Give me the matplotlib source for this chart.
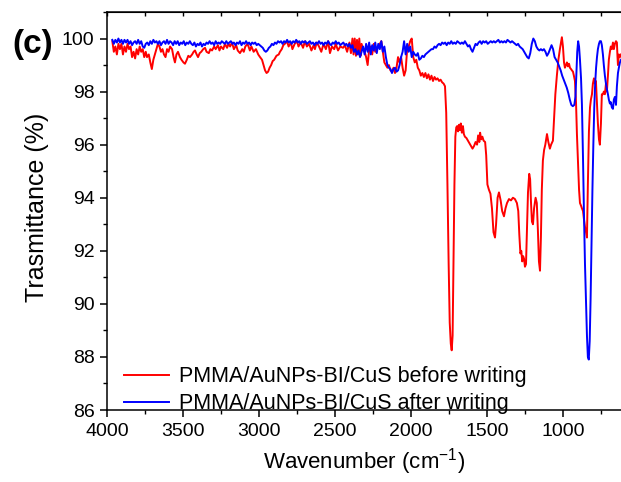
#!/usr/bin/env python3
"""
FTIR transmittance of PMMA/AuNPs-BI/CuS film before and after writing
"""

import matplotlib
matplotlib.use('Agg')
import matplotlib.pyplot as plt
from matplotlib.ticker import MultipleLocator
import numpy as np

# (wavenumber cm-1, transmittance %)
before_writing = [
    (3965, 99.9), (3955, 99.5), (3945, 99.7), (3935, 99.4), (3925, 99.8), (3915, 99.6),
    (3905, 99.8), (3895, 99.4), (3885, 99.7), (3875, 99.5), (3865, 99.8), (3855, 99.6),
    (3845, 99.7), (3835, 99.3), (3825, 99.5), (3815, 99.25), (3805, 99.6), (3795, 99.4),
    (3785, 99.7), (3775, 99.5), (3765, 99.6), (3755, 99.3), (3745, 99.5), (3737, 99.3),
    (3725, 99.4), (3715, 99.1), (3705, 98.85), (3695, 99.2), (3685, 99.4), (3675, 99.6),
    (3665, 99.8), (3655, 99.7), (3645, 99.5), (3635, 99.6), (3625, 99.4), (3615, 99.3),
    (3605, 99.6), (3595, 99.5), (3585, 99.7), (3572, 99.6), (3562, 99.3), (3553, 99.1),
    (3543, 99.4), (3533, 99.5), (3520, 99.3), (3510, 99.2), (3497, 99.1), (3487, 99.05),
    (3475, 99.2), (3465, 99.35), (3454, 99.3), (3440, 99.4), (3430, 99.5), (3421, 99.55),
    (3410, 99.4), (3401, 99.3), (3390, 99.45), (3380, 99.5), (3367, 99.6), (3355, 99.65),
    (3345, 99.5), (3330, 99.45), (3320, 99.6), (3309, 99.55), (3295, 99.7), (3285, 99.6),
    (3270, 99.75), (3260, 99.55), (3250, 99.7), (3235, 99.6), (3224, 99.8), (3210, 99.65),
    (3200, 99.8), (3190, 99.7), (3178, 99.85), (3165, 99.6), (3150, 99.75), (3140, 99.55),
    (3125, 99.45), (3110, 99.6), (3100, 99.5), (3090, 99.7), (3075, 99.8), (3060, 99.55),
    (3050, 99.7), (3035, 99.5), (3020, 99.6), (3005, 99.4), (2993, 99.3), (2980, 99.2),
    (2970, 99.0), (2960, 98.8), (2950, 98.7), (2940, 98.75), (2930, 98.9), (2920, 99.0),
    (2910, 99.15), (2900, 99.2), (2885, 99.35), (2870, 99.4), (2862, 99.5), (2850, 99.6),
    (2840, 99.75), (2830, 99.8), (2816, 99.9), (2805, 99.7), (2790, 99.85), (2780, 99.6),
    (2765, 99.8), (2750, 99.9), (2740, 99.7), (2725, 99.85), (2710, 99.65), (2697, 99.9),
    (2685, 99.7), (2670, 99.8), (2655, 99.55), (2640, 99.75), (2632, 99.6), (2620, 99.85),
    (2605, 99.7), (2590, 99.5), (2575, 99.8), (2560, 99.6), (2545, 99.9), (2533, 99.45),
    (2520, 99.7), (2505, 99.6), (2495, 99.8), (2480, 99.55), (2465, 99.7), (2447, 99.65),
    (2435, 99.75), (2420, 99.5), (2405, 99.85), (2395, 99.45), (2385, 100.0), (2378, 99.4),
    (2370, 100.0), (2362, 99.35), (2355, 99.95), (2348, 99.4), (2340, 100.0), (2332, 99.35),
    (2325, 99.8), (2315, 99.6), (2305, 99.5), (2295, 99.3), (2285, 99.0), (2275, 99.6),
    (2265, 99.7), (2255, 99.4), (2245, 99.8), (2235, 99.5), (2225, 99.6), (2215, 99.7),
    (2205, 99.8), (2195, 99.9), (2185, 99.5), (2175, 99.1), (2165, 99.0), (2155, 98.9),
    (2145, 99.0), (2135, 98.8), (2125, 98.75), (2115, 98.9), (2105, 98.7), (2095, 98.9),
    (2085, 99.3), (2075, 99.1), (2065, 99.3), (2055, 98.9), (2045, 98.6), (2035, 98.8),
    (2025, 99.6), (2015, 99.7), (2005, 99.9), (1995, 100.0), (1985, 99.3), (1975, 99.1),
    (1965, 99.2), (1955, 98.9), (1945, 98.8), (1935, 98.6), (1925, 98.7), (1915, 98.55),
    (1905, 98.7), (1895, 98.5), (1885, 98.65), (1875, 98.45), (1865, 98.6), (1855, 98.4),
    (1845, 98.55), (1835, 98.45), (1825, 98.5), (1815, 98.4), (1805, 98.45), (1795, 98.35),
    (1785, 98.3), (1776, 98.2), (1768, 97.2), (1760, 94.5), (1752, 91.5), (1745, 89.3),
    (1738, 88.5), (1732, 88.25), (1726, 88.8), (1720, 91.5), (1714, 94.5), (1708, 96.3),
    (1702, 96.65), (1696, 96.7), (1690, 96.5), (1684, 96.75), (1678, 96.55), (1672, 96.8),
    (1665, 96.45), (1658, 96.7), (1652, 96.4), (1645, 96.3), (1635, 96.25), (1625, 96.15),
    (1615, 96.05), (1605, 95.95), (1595, 95.85), (1585, 95.95), (1575, 96.1), (1565, 96.0),
    (1558, 96.35), (1550, 96.1), (1545, 96.45), (1538, 96.2), (1530, 96.3), (1522, 96.15),
    (1512, 96.1), (1505, 95.6), (1497, 94.5), (1487, 94.3), (1477, 94.15), (1467, 93.6),
    (1457, 92.7), (1447, 92.5), (1440, 93.0), (1430, 94.0), (1421, 94.2), (1410, 93.9),
    (1400, 93.5), (1388, 93.3), (1378, 93.6), (1368, 93.8), (1355, 93.95), (1342, 93.9),
    (1329, 94.0), (1316, 93.95), (1303, 93.8), (1294, 93.5), (1287, 92.6), (1280, 91.9),
    (1274, 92.0), (1268, 91.6), (1262, 91.8), (1256, 91.7), (1250, 91.4), (1243, 91.5),
    (1237, 92.8), (1230, 94.2), (1222, 94.9), (1216, 94.7), (1210, 93.8), (1204, 93.1),
    (1197, 93.0), (1190, 93.6), (1180, 94.0), (1172, 93.8), (1165, 92.8), (1158, 91.6),
    (1151, 91.25), (1145, 92.5), (1139, 94.3), (1132, 95.4), (1124, 95.8), (1116, 96.0),
    (1105, 96.4), (1096, 96.1), (1086, 95.85), (1078, 96.0), (1066, 96.15), (1058, 97.0),
    (1050, 97.9), (1040, 98.6), (1030, 99.2), (1020, 99.6), (1013, 99.85), (1007, 100.05),
    (1000, 99.7), (993, 99.1), (987, 98.9), (980, 99.0), (974, 99.1), (967, 98.95),
    (960, 99.05), (954, 98.9), (947, 98.85), (941, 98.8), (934, 98.75), (928, 98.6),
    (921, 98.4), (914, 97.6), (908, 96.4), (901, 95.3), (894, 94.3), (888, 93.8),
    (881, 93.7), (875, 93.6), (868, 93.5), (862, 93.2), (855, 92.9), (848, 92.7),
    (842, 92.5), (836, 94.5), (829, 96.5), (822, 97.4), (816, 97.7), (809, 97.9),
    (803, 98.3), (796, 98.5), (790, 98.3), (783, 98.4), (776, 97.5), (770, 96.8),
    (763, 96.2), (757, 96.0), (750, 96.8), (744, 97.9), (737, 97.9), (731, 98.0),
    (724, 97.9), (717, 98.3), (711, 98.0), (704, 98.6), (698, 99.2), (691, 99.5),
    (685, 99.7), (678, 99.6), (671, 99.85), (665, 99.6), (658, 99.8), (651, 99.9),
    (645, 99.85), (641, 99.3), (638, 99.0), (632, 99.4), (625, 99.3), (618, 99.4),
]

after_writing = [
    (3965, 99.95), (3955, 99.8), (3945, 99.95), (3935, 99.85), (3925, 100.0), (3915, 99.85),
    (3905, 99.95), (3895, 99.8), (3885, 99.95), (3875, 99.85), (3865, 99.95), (3855, 99.8),
    (3845, 99.9), (3835, 99.75), (3825, 99.85), (3815, 99.9), (3805, 99.8), (3795, 99.95),
    (3785, 99.8), (3775, 99.9), (3765, 99.7), (3755, 99.65), (3745, 99.8), (3735, 99.85),
    (3725, 99.75), (3715, 99.9), (3705, 99.8), (3695, 99.95), (3685, 99.85), (3675, 99.9),
    (3665, 99.8), (3655, 99.9), (3645, 99.75), (3635, 99.85), (3625, 99.9), (3615, 99.8),
    (3605, 99.95), (3595, 99.8), (3585, 99.9), (3575, 99.85), (3565, 99.75), (3555, 99.9),
    (3545, 99.8), (3535, 99.9), (3525, 99.75), (3515, 99.85), (3505, 99.8), (3495, 99.9),
    (3485, 99.75), (3475, 99.85), (3465, 99.8), (3455, 99.9), (3445, 99.8), (3435, 99.75),
    (3425, 99.85), (3415, 99.7), (3405, 99.8), (3395, 99.75), (3385, 99.85), (3375, 99.7),
    (3365, 99.8), (3355, 99.75), (3345, 99.85), (3335, 99.8), (3325, 99.9), (3315, 99.8),
    (3305, 99.85), (3295, 99.75), (3285, 99.9), (3275, 99.8), (3265, 99.85), (3255, 99.8),
    (3245, 99.9), (3235, 99.85), (3225, 99.8), (3215, 99.9), (3205, 99.8), (3195, 99.85),
    (3185, 99.9), (3175, 99.8), (3165, 99.85), (3155, 99.75), (3145, 99.85), (3135, 99.8),
    (3125, 99.9), (3115, 99.75), (3105, 99.85), (3095, 99.8), (3085, 99.9), (3075, 99.8),
    (3065, 99.85), (3055, 99.75), (3045, 99.85), (3035, 99.8), (3025, 99.85), (3015, 99.75),
    (3005, 99.8), (2995, 99.75), (2985, 99.7), (2975, 99.65), (2965, 99.55), (2955, 99.5),
    (2945, 99.55), (2935, 99.65), (2925, 99.7), (2915, 99.8), (2905, 99.75), (2895, 99.85),
    (2885, 99.8), (2875, 99.9), (2865, 99.85), (2855, 99.9), (2845, 99.8), (2835, 99.9),
    (2825, 99.85), (2815, 99.95), (2805, 99.85), (2795, 99.9), (2785, 99.8), (2775, 99.9),
    (2765, 99.85), (2755, 99.95), (2745, 99.85), (2735, 99.9), (2725, 99.8), (2715, 99.9),
    (2705, 99.85), (2695, 99.9), (2685, 99.8), (2675, 99.85), (2665, 99.9), (2655, 99.8),
    (2645, 99.85), (2635, 99.75), (2625, 99.85), (2615, 99.8), (2605, 99.9), (2595, 99.8),
    (2585, 99.85), (2575, 99.75), (2565, 99.85), (2555, 99.8), (2545, 99.9), (2535, 99.8),
    (2525, 99.75), (2515, 99.85), (2505, 99.8), (2495, 99.9), (2485, 99.8), (2475, 99.85),
    (2465, 99.75), (2455, 99.8), (2445, 99.85), (2435, 99.75), (2425, 99.8), (2415, 99.7),
    (2405, 99.8), (2395, 99.65), (2385, 99.75), (2375, 99.5), (2365, 99.6), (2355, 99.4),
    (2345, 99.55), (2335, 99.3), (2325, 99.5), (2315, 99.7), (2305, 99.4), (2295, 99.8),
    (2285, 99.5), (2275, 99.85), (2265, 99.4), (2255, 99.75), (2245, 99.55), (2235, 99.85),
    (2225, 99.45), (2215, 99.8), (2205, 99.6), (2195, 99.9), (2185, 99.5), (2175, 99.7),
    (2165, 99.3), (2155, 99.0), (2145, 98.9), (2135, 98.85), (2125, 98.7), (2115, 98.85),
    (2105, 98.9), (2095, 98.75), (2085, 98.8), (2075, 99.0), (2065, 99.3), (2055, 99.5),
    (2045, 99.9), (2035, 99.4), (2025, 99.8), (2015, 99.5), (2005, 99.7), (1995, 99.3),
    (1985, 99.5), (1975, 99.4), (1965, 99.35), (1955, 99.45), (1945, 99.2), (1935, 99.25),
    (1925, 99.35), (1915, 99.3), (1905, 99.4), (1895, 99.45), (1885, 99.5), (1875, 99.55),
    (1865, 99.6), (1855, 99.6), (1845, 99.7), (1835, 99.65), (1825, 99.75), (1815, 99.8),
    (1805, 99.75), (1795, 99.85), (1785, 99.8), (1775, 99.85), (1765, 99.75), (1755, 99.85),
    (1745, 99.8), (1735, 99.9), (1725, 99.8), (1715, 99.85), (1705, 99.8), (1695, 99.9),
    (1685, 99.85), (1675, 99.8), (1665, 99.85), (1655, 99.8), (1645, 99.9), (1635, 99.8),
    (1625, 99.7), (1615, 99.75), (1605, 99.6), (1595, 99.5), (1585, 99.65), (1575, 99.8),
    (1565, 99.75), (1555, 99.85), (1545, 99.9), (1535, 99.8), (1525, 99.9), (1515, 99.85),
    (1505, 99.9), (1495, 99.8), (1485, 99.85), (1475, 99.9), (1465, 99.85), (1455, 99.9),
    (1445, 99.85), (1435, 99.9), (1425, 99.95), (1415, 99.85), (1405, 99.9), (1395, 99.85),
    (1385, 99.9), (1375, 99.85), (1365, 99.95), (1355, 99.9), (1345, 99.85), (1335, 99.9),
    (1325, 99.85), (1315, 99.8), (1305, 99.75), (1295, 99.8), (1285, 99.7), (1275, 99.65),
    (1265, 99.6), (1255, 99.5), (1245, 99.4), (1235, 99.3), (1225, 99.25), (1215, 99.45),
    (1205, 99.8), (1195, 100.0), (1185, 99.9), (1175, 99.7), (1165, 99.6), (1155, 99.55),
    (1145, 99.6), (1135, 99.55), (1125, 99.6), (1115, 99.5), (1105, 99.35), (1095, 99.45),
    (1085, 99.6), (1075, 99.75), (1065, 99.6), (1055, 99.3), (1045, 99.2), (1035, 99.1),
    (1025, 98.95), (1015, 98.8), (1005, 98.6), (995, 98.45), (985, 98.3), (975, 98.15),
    (965, 97.95), (955, 97.7), (945, 97.5), (935, 97.45), (925, 97.5), (918, 97.8),
    (912, 98.6), (906, 99.5), (900, 99.9), (894, 99.7), (888, 99.2), (881, 98.5),
    (875, 97.5), (868, 95.5), (862, 93.5), (855, 91.5), (848, 90.0), (842, 88.8),
    (836, 88.0), (830, 87.9), (824, 88.6), (818, 90.2), (812, 92.3), (806, 94.3),
    (800, 96.0), (794, 97.4), (788, 98.3), (782, 98.9), (776, 99.3), (770, 99.6),
    (763, 99.8), (757, 99.9), (750, 99.9), (744, 99.75), (737, 99.4), (731, 99.0),
    (724, 98.6), (717, 98.3), (711, 98.1), (704, 97.9), (698, 97.7), (691, 97.55),
    (685, 97.6), (678, 97.4), (671, 97.35), (665, 97.7), (658, 97.8), (651, 97.5),
    (645, 98.2), (638, 98.7), (632, 98.9), (625, 99.1), (618, 99.2),
]

labels = ['PMMA/AuNPs-BI/CuS before writing', 'PMMA/AuNPs-BI/CuS after writing']
colors = ['#ff0000', '#0000ff']

plt.rcParams['font.family'] = ['Liberation Sans', 'DejaVu Sans']
plt.rcParams['mathtext.fontset'] = 'custom'
plt.rcParams['mathtext.rm'] = 'Liberation Sans'
plt.rcParams['mathtext.it'] = 'Liberation Sans:italic'

fig = plt.figure(figsize=(6.21, 4.82), dpi=100)
ax = fig.add_axes([107 / 621, 1 - 410 / 482, 1 - 107 / 621, (410 - 12) / 482])

for pts, lab, col in zip([before_writing, after_writing], labels, colors):
    arr = np.array(pts)
    ax.plot(arr[:, 0], arr[:, 1], color=col, linewidth=1.4, label=lab)

ax.set_xlim(4000, 618)
ax.set_ylim(86, 101)
ax.xaxis.set_major_locator(MultipleLocator(500))
ax.xaxis.set_minor_locator(MultipleLocator(250))
ax.yaxis.set_major_locator(MultipleLocator(2))
ax.yaxis.set_minor_locator(MultipleLocator(1))

ax.spines['right'].set_visible(False)
for s in ['left', 'bottom', 'top']:
    ax.spines[s].set_linewidth(1.1)
ax.tick_params(which='major', direction='out', length=5, width=1.1, labelsize=14, pad=4)
ax.tick_params(which='minor', direction='out', length=3, width=1.0)

# top axis: inward ticks without labels
top = ax.secondary_xaxis('top')
top.xaxis.set_major_locator(MultipleLocator(250))
top.tick_params(direction='in', length=3, width=1.0, labeltop=False)

ax.set_xlabel(r'Wavenumber (cm$^{-1}$)', fontsize=16, labelpad=5)
ax.set_ylabel('Trasmittance (%)', fontsize=18)
ax.yaxis.set_label_coords(-0.112, 0.509)

ax.legend(loc='lower left', bbox_to_anchor=(0.012, -0.038), frameon=False, fontsize=15.5,
          borderpad=0, handlelength=2.1, handletextpad=0.45, labelspacing=0.29)

fig.text(12 / 621, 1 - 44 / 482, '(c)', fontsize=24, fontweight='bold', va='center', ha='left')

plt.savefig('out.png', dpi=100)
plt.close()
